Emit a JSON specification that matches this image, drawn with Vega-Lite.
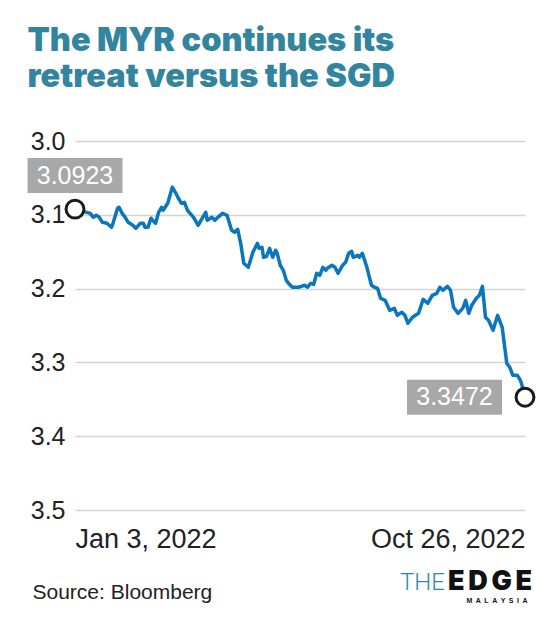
{
  "$schema": "https://vega.github.io/schema/vega-lite/v6.json",
  "width": 450,
  "height": 369,
  "autosize": {"type": "none"},
  "padding": {"left": 75, "top": 141, "right": 26, "bottom": 109},
  "background": "white",
  "title": {
    "text": ["The MYR continues its", "retreat versus the SGD"],
    "anchor": "start",
    "frame": "bounds",
    "font": "Inter",
    "fontSize": 32.5,
    "fontWeight": 900,
    "color": "#33849f",
    "lineHeight": 36,
    "offset": 36
  },
  "config": {
    "view": {"stroke": null},
    "font": "Liberation Sans"
  },
  "datasets": {
    "rates": [
      {"date": "2022-01-03", "rate": 3.0923},
      {"date": "2022-01-13", "rate": 3.098},
      {"date": "2022-01-15", "rate": 3.1034},
      {"date": "2022-01-17", "rate": 3.1007},
      {"date": "2022-01-19", "rate": 3.1034},
      {"date": "2022-01-21", "rate": 3.1102},
      {"date": "2022-01-24", "rate": 3.1115},
      {"date": "2022-01-27", "rate": 3.1169},
      {"date": "2022-01-28", "rate": 3.1115},
      {"date": "2022-01-31", "rate": 3.0912},
      {"date": "2022-02-01", "rate": 3.0898},
      {"date": "2022-02-03", "rate": 3.098},
      {"date": "2022-02-05", "rate": 3.1034},
      {"date": "2022-02-07", "rate": 3.1102},
      {"date": "2022-02-10", "rate": 3.1142},
      {"date": "2022-02-12", "rate": 3.1183},
      {"date": "2022-02-15", "rate": 3.1115},
      {"date": "2022-02-17", "rate": 3.1115},
      {"date": "2022-02-18", "rate": 3.1169},
      {"date": "2022-02-20", "rate": 3.1169},
      {"date": "2022-02-22", "rate": 3.1047},
      {"date": "2022-02-23", "rate": 3.1075},
      {"date": "2022-02-25", "rate": 3.1115},
      {"date": "2022-02-27", "rate": 3.0966},
      {"date": "2022-03-01", "rate": 3.0898},
      {"date": "2022-03-02", "rate": 3.0939},
      {"date": "2022-03-05", "rate": 3.0844},
      {"date": "2022-03-08", "rate": 3.0627},
      {"date": "2022-03-10", "rate": 3.0695},
      {"date": "2022-03-12", "rate": 3.0776},
      {"date": "2022-03-14", "rate": 3.0844},
      {"date": "2022-03-16", "rate": 3.0831},
      {"date": "2022-03-18", "rate": 3.0939},
      {"date": "2022-03-22", "rate": 3.1034},
      {"date": "2022-03-25", "rate": 3.1142},
      {"date": "2022-03-28", "rate": 3.1034},
      {"date": "2022-03-30", "rate": 3.0966},
      {"date": "2022-03-31", "rate": 3.1075},
      {"date": "2022-04-03", "rate": 3.1034},
      {"date": "2022-04-05", "rate": 3.1075},
      {"date": "2022-04-07", "rate": 3.1034},
      {"date": "2022-04-10", "rate": 3.098},
      {"date": "2022-04-13", "rate": 3.1007},
      {"date": "2022-04-14", "rate": 3.1075},
      {"date": "2022-04-16", "rate": 3.121},
      {"date": "2022-04-18", "rate": 3.1237},
      {"date": "2022-04-20", "rate": 3.1196},
      {"date": "2022-04-22", "rate": 3.1386},
      {"date": "2022-04-24", "rate": 3.1657},
      {"date": "2022-04-27", "rate": 3.1711},
      {"date": "2022-04-30", "rate": 3.1508},
      {"date": "2022-05-03", "rate": 3.1386},
      {"date": "2022-05-04", "rate": 3.1454},
      {"date": "2022-05-06", "rate": 3.144},
      {"date": "2022-05-07", "rate": 3.1576},
      {"date": "2022-05-09", "rate": 3.1562},
      {"date": "2022-05-11", "rate": 3.1454},
      {"date": "2022-05-13", "rate": 3.1576},
      {"date": "2022-05-15", "rate": 3.1481},
      {"date": "2022-05-16", "rate": 3.1522},
      {"date": "2022-05-18", "rate": 3.1684},
      {"date": "2022-05-20", "rate": 3.1752},
      {"date": "2022-05-22", "rate": 3.1888},
      {"date": "2022-05-24", "rate": 3.1942},
      {"date": "2022-05-26", "rate": 3.1982},
      {"date": "2022-05-30", "rate": 3.1982},
      {"date": "2022-06-01", "rate": 3.1969},
      {"date": "2022-06-03", "rate": 3.1955},
      {"date": "2022-06-05", "rate": 3.1982},
      {"date": "2022-06-07", "rate": 3.1928},
      {"date": "2022-06-09", "rate": 3.1942},
      {"date": "2022-06-11", "rate": 3.1793},
      {"date": "2022-06-13", "rate": 3.182},
      {"date": "2022-06-15", "rate": 3.1711},
      {"date": "2022-06-17", "rate": 3.1752},
      {"date": "2022-06-18", "rate": 3.1725},
      {"date": "2022-06-21", "rate": 3.1684},
      {"date": "2022-06-23", "rate": 3.1711},
      {"date": "2022-06-25", "rate": 3.1793},
      {"date": "2022-06-28", "rate": 3.1684},
      {"date": "2022-06-30", "rate": 3.1644},
      {"date": "2022-07-02", "rate": 3.1522},
      {"date": "2022-07-04", "rate": 3.1495},
      {"date": "2022-07-05", "rate": 3.1576},
      {"date": "2022-07-08", "rate": 3.1549},
      {"date": "2022-07-09", "rate": 3.1576},
      {"date": "2022-07-11", "rate": 3.1522},
      {"date": "2022-07-14", "rate": 3.1711},
      {"date": "2022-07-15", "rate": 3.1793},
      {"date": "2022-07-17", "rate": 3.1955},
      {"date": "2022-07-19", "rate": 3.1982},
      {"date": "2022-07-21", "rate": 3.1996},
      {"date": "2022-07-23", "rate": 3.2131},
      {"date": "2022-07-26", "rate": 3.2159},
      {"date": "2022-07-29", "rate": 3.2294},
      {"date": "2022-08-01", "rate": 3.2267},
      {"date": "2022-08-03", "rate": 3.2362},
      {"date": "2022-08-06", "rate": 3.2321},
      {"date": "2022-08-08", "rate": 3.2362},
      {"date": "2022-08-10", "rate": 3.247},
      {"date": "2022-08-13", "rate": 3.2389},
      {"date": "2022-08-17", "rate": 3.2335},
      {"date": "2022-08-20", "rate": 3.2145},
      {"date": "2022-08-23", "rate": 3.2199},
      {"date": "2022-08-26", "rate": 3.2091},
      {"date": "2022-08-29", "rate": 3.2064},
      {"date": "2022-08-31", "rate": 3.1982},
      {"date": "2022-09-02", "rate": 3.2023},
      {"date": "2022-09-05", "rate": 3.1969},
      {"date": "2022-09-07", "rate": 3.2023},
      {"date": "2022-09-09", "rate": 3.2253},
      {"date": "2022-09-12", "rate": 3.2335},
      {"date": "2022-09-15", "rate": 3.2267},
      {"date": "2022-09-17", "rate": 3.2159},
      {"date": "2022-09-19", "rate": 3.2335},
      {"date": "2022-09-21", "rate": 3.2226},
      {"date": "2022-09-24", "rate": 3.2131},
      {"date": "2022-09-26", "rate": 3.2091},
      {"date": "2022-09-28", "rate": 3.1969},
      {"date": "2022-09-30", "rate": 3.2389},
      {"date": "2022-10-02", "rate": 3.243},
      {"date": "2022-10-05", "rate": 3.2565},
      {"date": "2022-10-08", "rate": 3.2362},
      {"date": "2022-10-11", "rate": 3.2524},
      {"date": "2022-10-14", "rate": 3.3012},
      {"date": "2022-10-16", "rate": 3.3066},
      {"date": "2022-10-18", "rate": 3.3175},
      {"date": "2022-10-21", "rate": 3.3175},
      {"date": "2022-10-23", "rate": 3.3243},
      {"date": "2022-10-24", "rate": 3.331},
      {"date": "2022-10-26", "rate": 3.3472}
    ],
    "ends": [
      {"date": "2022-01-03", "rate": 3.0923},
      {"date": "2022-10-26", "rate": 3.3472}
    ]
  },
  "encoding": {
    "x": {
      "field": "date",
      "type": "temporal",
      "scale": {
        "type": "utc",
        "domain": [
          {"year": 2022, "month": 1, "date": 3, "utc": true},
          {"year": 2022, "month": 10, "date": 26, "utc": true}
        ]
      },
      "axis": {
        "values": [
          {"year": 2022, "month": 1, "date": 3, "utc": true},
          {"year": 2022, "month": 10, "date": 26, "utc": true}
        ],
        "format": "%b %-d, %Y",
        "labelFlush": true,
        "labelFontSize": 27,
        "labelColor": "#222222",
        "labelBaseline": "alphabetic",
        "labelPadding": 37,
        "grid": false,
        "domain": false,
        "ticks": false,
        "tickSize": 0,
        "title": "Source: Bloomberg",
        "titleFontSize": 21,
        "titleFontWeight": "normal",
        "titleColor": "#222222",
        "titleAnchor": "start",
        "titleAlign": "left",
        "titleBaseline": "alphabetic",
        "titleX": -43,
        "titleY": 88
      }
    },
    "y": {
      "field": "rate",
      "type": "quantitative",
      "scale": {"domain": [3.0, 3.5], "reverse": true, "zero": false},
      "axis": {
        "values": [3.0, 3.1, 3.2, 3.3, 3.4, 3.5],
        "format": ".1f",
        "labelFontSize": 25,
        "labelColor": "#222222",
        "labelPadding": 10,
        "ticks": false,
        "tickSize": 0,
        "domain": false,
        "grid": true,
        "gridColor": "#d4d4d4",
        "gridWidth": 1.5,
        "title": null
      }
    }
  },
  "layer": [
    {
      "data": {"name": "rates"},
      "mark": {"type": "line", "color": "#0a76bd", "strokeWidth": 3.5, "strokeJoin": "round"}
    },
    {
      "data": {"name": "ends"},
      "mark": {"type": "point", "shape": "circle", "filled": true, "fill": "white", "stroke": "#1a1a1a", "strokeWidth": 3, "size": 320, "opacity": 1}
    },
    {
      "data": {"name": "ends"},
      "transform": [{"filter": "datum.rate < 3.2"}],
      "mark": {"type": "rect", "color": "#a8a8a8", "width": 95, "height": 35, "yOffset": -33.5}
    },
    {
      "data": {"name": "ends"},
      "transform": [{"filter": "datum.rate < 3.2"}],
      "mark": {"type": "text", "color": "white", "fontSize": 25, "baseline": "middle", "align": "center", "yOffset": -33.5},
      "encoding": {"text": {"field": "rate", "type": "quantitative", "format": ".4f"}}
    },
    {
      "data": {"name": "ends"},
      "transform": [{"filter": "datum.rate > 3.2"}],
      "mark": {"type": "rect", "color": "#a8a8a8", "width": 95, "height": 35, "xOffset": -70.5}
    },
    {
      "data": {"name": "ends"},
      "transform": [{"filter": "datum.rate > 3.2"}],
      "mark": {"type": "text", "color": "white", "fontSize": 25, "baseline": "middle", "align": "center", "xOffset": -70.5},
      "encoding": {"text": {"field": "rate", "type": "quantitative", "format": ".4f"}}
    },
    {
      "data": {"name": "ends"},
      "transform": [{"filter": "datum.rate > 3.2"}],
      "mark": {"type": "text", "color": "#2e8aa8", "font": "Roboto", "fontSize": 24, "fontWeight": 300, "align": "right", "baseline": "alphabetic", "dx": -80, "dy": 193},
      "encoding": {"text": {"value": "THE"}}
    },
    {
      "data": {"name": "ends"},
      "transform": [{"filter": "datum.rate > 3.2"}],
      "mark": {"type": "text", "color": "#111111", "font": "Inter", "fontSize": 27, "fontWeight": 900, "align": "right", "baseline": "alphabetic", "dx": 7, "dy": 193},
      "encoding": {"text": {"value": "E\u2009D\u2009G\u2009E"}}
    },
    {
      "data": {"name": "ends"},
      "transform": [{"filter": "datum.rate > 3.2"}],
      "mark": {"type": "text", "color": "#111111", "fontSize": 7, "fontWeight": "bold", "align": "center", "baseline": "alphabetic", "dx": -28, "dy": 206},
      "encoding": {"text": {"value": "M\u2002A\u2002L\u2002A\u2002Y\u2002S\u2002I\u2002A"}}
    }
  ]
}
